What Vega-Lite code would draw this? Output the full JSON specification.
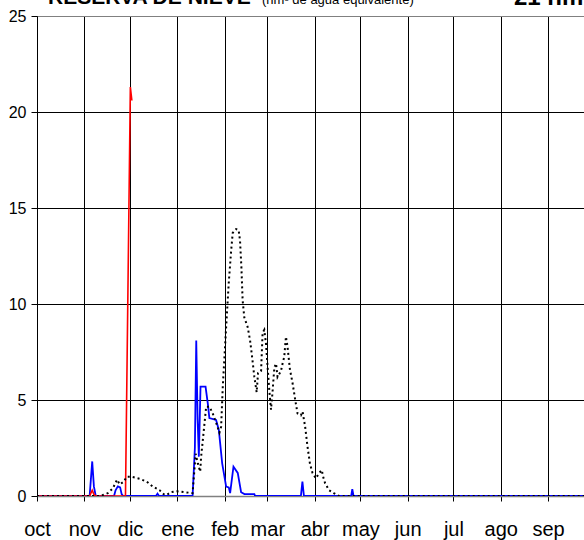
{
  "$schema": "https://vega.github.io/schema/vega-lite/v6.json",
  "width": 547,
  "height": 480,
  "autosize": {"type": "none"},
  "padding": {"left": 37, "top": 16, "right": 0, "bottom": 44},
  "background": "white",
  "config": {"view": {"stroke": null}, "font": "Liberation Sans"},
  "datasets": {
    "azul": [
      {"dia": 0, "hm3": 0}, {"dia": 34.5, "hm3": 0}, {"dia": 36.2, "hm3": 1.8}, {"dia": 37.3, "hm3": 0.5}, {"dia": 38.5, "hm3": 0},
      {"dia": 50.5, "hm3": 0}, {"dia": 51.5, "hm3": 0.3}, {"dia": 53, "hm3": 0.5}, {"dia": 54.5, "hm3": 0.45}, {"dia": 55.5, "hm3": 0.1}, {"dia": 56.5, "hm3": 0},
      {"dia": 78, "hm3": 0}, {"dia": 79, "hm3": 0.12}, {"dia": 80, "hm3": 0},
      {"dia": 102, "hm3": 0}, {"dia": 103.5, "hm3": 2.5}, {"dia": 104.4, "hm3": 8.1}, {"dia": 105.3, "hm3": 4}, {"dia": 106.1, "hm3": 2.05},
      {"dia": 107.2, "hm3": 5.7}, {"dia": 110.5, "hm3": 5.7}, {"dia": 112, "hm3": 4.8}, {"dia": 113, "hm3": 4.06}, {"dia": 117.4, "hm3": 3.96},
      {"dia": 119.2, "hm3": 3.44}, {"dia": 121.4, "hm3": 1.7}, {"dia": 124, "hm3": 0.49}, {"dia": 125.7, "hm3": 0.45}, {"dia": 126.6, "hm3": 0.15},
      {"dia": 128.8, "hm3": 1.53}, {"dia": 131.6, "hm3": 1.2}, {"dia": 133.8, "hm3": 0.2}, {"dia": 136, "hm3": 0.1}, {"dia": 142.5, "hm3": 0.1}, {"dia": 143, "hm3": 0},
      {"dia": 173, "hm3": 0}, {"dia": 174, "hm3": 0.75}, {"dia": 175, "hm3": 0},
      {"dia": 206, "hm3": 0}, {"dia": 206.7, "hm3": 0.36}, {"dia": 207.5, "hm3": 0}, {"dia": 358.6, "hm3": 0}
    ],
    "rojo": [
      {"dia": 0, "hm3": 0}, {"dia": 34.5, "hm3": 0}, {"dia": 36.2, "hm3": 0.3}, {"dia": 37.5, "hm3": 0.05}, {"dia": 39, "hm3": 0},
      {"dia": 58, "hm3": 0}, {"dia": 61.2, "hm3": 21.3}, {"dia": 62.2, "hm3": 20.6}
    ],
    "media": [
      {"dia": 0, "hm3": 0}, {"dia": 41, "hm3": 0}, {"dia": 43.1, "hm3": 0.05}, {"dia": 46.4, "hm3": 0.15}, {"dia": 49.7, "hm3": 0.4},
      {"dia": 52.5, "hm3": 0.85}, {"dia": 54.2, "hm3": 0.6}, {"dia": 56.9, "hm3": 0.75}, {"dia": 58.8, "hm3": 1.0}, {"dia": 62.1, "hm3": 1.0},
      {"dia": 67.3, "hm3": 0.9}, {"dia": 71.9, "hm3": 0.75}, {"dia": 75.8, "hm3": 0.5}, {"dia": 80.4, "hm3": 0.3}, {"dia": 83, "hm3": 0.1},
      {"dia": 85, "hm3": 0.05}, {"dia": 87.6, "hm3": 0.2}, {"dia": 91.5, "hm3": 0.25}, {"dia": 96.7, "hm3": 0.2}, {"dia": 102, "hm3": 0.15},
      {"dia": 104, "hm3": 2.2}, {"dia": 105.4, "hm3": 1.7}, {"dia": 107, "hm3": 1.27}, {"dia": 107.6, "hm3": 2.05}, {"dia": 109.2, "hm3": 3.3},
      {"dia": 110.9, "hm3": 4.65}, {"dia": 113.1, "hm3": 4.65}, {"dia": 115.2, "hm3": 4.3}, {"dia": 117.5, "hm3": 3.8}, {"dia": 119.6, "hm3": 3.3},
      {"dia": 120.7, "hm3": 3.6}, {"dia": 121.8, "hm3": 5.7}, {"dia": 124, "hm3": 8.8}, {"dia": 125.7, "hm3": 11.1}, {"dia": 127.3, "hm3": 12.8},
      {"dia": 128.3, "hm3": 13.7}, {"dia": 130.5, "hm3": 13.9}, {"dia": 132.2, "hm3": 13.85}, {"dia": 133.1, "hm3": 13.3}, {"dia": 134, "hm3": 11.9},
      {"dia": 134.8, "hm3": 10.2}, {"dia": 135.9, "hm3": 9.3}, {"dia": 138.1, "hm3": 8.8}, {"dia": 139.7, "hm3": 8.1}, {"dia": 141, "hm3": 7.25},
      {"dia": 142.5, "hm3": 6.2}, {"dia": 144, "hm3": 5.4}, {"dia": 144.9, "hm3": 6.4}, {"dia": 146.9, "hm3": 6.5}, {"dia": 147.9, "hm3": 8.5},
      {"dia": 149, "hm3": 8.65}, {"dia": 150.1, "hm3": 7.95}, {"dia": 151.2, "hm3": 6.7}, {"dia": 152.3, "hm3": 5.5}, {"dia": 153.4, "hm3": 4.5},
      {"dia": 154.4, "hm3": 5.4}, {"dia": 155.6, "hm3": 6.7}, {"dia": 156.7, "hm3": 6.9}, {"dia": 157.7, "hm3": 6.2}, {"dia": 159.9, "hm3": 6.5},
      {"dia": 161, "hm3": 6.9}, {"dia": 162.1, "hm3": 7.25}, {"dia": 163.2, "hm3": 8.3}, {"dia": 164.2, "hm3": 7.8}, {"dia": 165.8, "hm3": 6.6},
      {"dia": 167.5, "hm3": 5.9}, {"dia": 169.3, "hm3": 5.0}, {"dia": 170.8, "hm3": 4.3}, {"dia": 173, "hm3": 4.2}, {"dia": 174.1, "hm3": 4.4},
      {"dia": 175.8, "hm3": 3.6}, {"dia": 177.3, "hm3": 2.6}, {"dia": 178.9, "hm3": 1.7}, {"dia": 180.6, "hm3": 1.2}, {"dia": 182.8, "hm3": 0.92},
      {"dia": 185, "hm3": 1.2}, {"dia": 186.7, "hm3": 1.35}, {"dia": 187.6, "hm3": 1.0}, {"dia": 188.9, "hm3": 0.66}, {"dia": 191.5, "hm3": 0.3},
      {"dia": 194.8, "hm3": 0.14}, {"dia": 198, "hm3": 0}, {"dia": 358.6, "hm3": 0}
    ]
  },
  "layer": [
    {
      "data": {"name": "azul"},
      "mark": {"type": "line", "color": "#0000ff", "strokeWidth": 1.8, "clip": true},
      "encoding": {
        "x": {
          "field": "dia", "type": "quantitative",
          "scale": {"domain": [0, 358.6], "nice": false, "zero": false},
          "axis": {
            "title": null,
            "values": [0, 31, 61, 92, 123, 151, 182, 212, 243, 273, 304, 335],
            "labelExpr": "['oct','nov','dic','ene','feb','mar','abr','may','jun','jul','ago','sep'][indexof([0,31,61,92,123,151,182,212,243,273,304,335], datum.value)]",
            "grid": true, "gridColor": "#000", "gridWidth": 1,
            "domainColor": "#808080", "domainWidth": 1.5,
            "tickColor": "#000", "tickSize": 5,
            "labelFontSize": 20, "labelColor": "#000", "labelFont": "Liberation Sans",
            "labelBaseline": "alphabetic", "labelPadding": 34,
            "labelFlush": false, "labelOverlap": false, "labelBound": false
          }
        },
        "y": {
          "field": "hm3", "type": "quantitative",
          "scale": {"domain": [0, 25], "nice": false},
          "axis": {
            "title": null,
            "values": [0, 5, 10, 15, 20, 25],
            "grid": true,
            "gridColor": {"condition": {"test": "datum.value == 0 || datum.value == 25", "value": "#808080"}, "value": "#000"},
            "gridWidth": 1,
            "domainColor": "#000", "domainWidth": 1,
            "tickColor": "#000", "tickSize": 6,
            "labelFontSize": 16, "labelColor": "#000", "labelFont": "Liberation Sans",
            "labelPadding": 5
          }
        }
      }
    },
    {
      "data": {"name": "rojo"},
      "mark": {"type": "line", "color": "#ff0000", "strokeWidth": 1.6, "clip": true},
      "encoding": {
        "x": {"field": "dia", "type": "quantitative"},
        "y": {"field": "hm3", "type": "quantitative"}
      }
    },
    {
      "data": {"name": "media"},
      "mark": {"type": "line", "color": "#000000", "strokeWidth": 2, "strokeDash": [2, 3], "clip": true},
      "encoding": {
        "x": {"field": "dia", "type": "quantitative"},
        "y": {"field": "hm3", "type": "quantitative"}
      }
    },
    {
      "data": {"values": [{"t": "RESERVA DE NIEVE"}]},
      "mark": {"type": "text", "align": "left", "baseline": "alphabetic", "fontSize": 21, "fontWeight": "bold", "font": "Liberation Sans", "color": "#000"},
      "encoding": {
        "x": {"datum": 7.2, "type": "quantitative"},
        "y": {"datum": 25.62, "type": "quantitative"},
        "text": {"field": "t"}
      }
    },
    {
      "data": {"values": [{"t": "(hm³ de agua equivalente)"}]},
      "mark": {"type": "text", "align": "left", "baseline": "alphabetic", "fontSize": 13, "font": "Liberation Sans", "color": "#000"},
      "encoding": {
        "x": {"datum": 147.5, "type": "quantitative"},
        "y": {"datum": 25.62, "type": "quantitative"},
        "text": {"field": "t"}
      }
    },
    {
      "data": {"values": [{"t": "21 hm³"}]},
      "mark": {"type": "text", "align": "left", "baseline": "alphabetic", "fontSize": 24, "fontWeight": "bold", "font": "Liberation Sans", "color": "#000"},
      "encoding": {
        "x": {"datum": 312.7, "type": "quantitative"},
        "y": {"datum": 25.57, "type": "quantitative"},
        "text": {"field": "t"}
      }
    }
  ]
}
